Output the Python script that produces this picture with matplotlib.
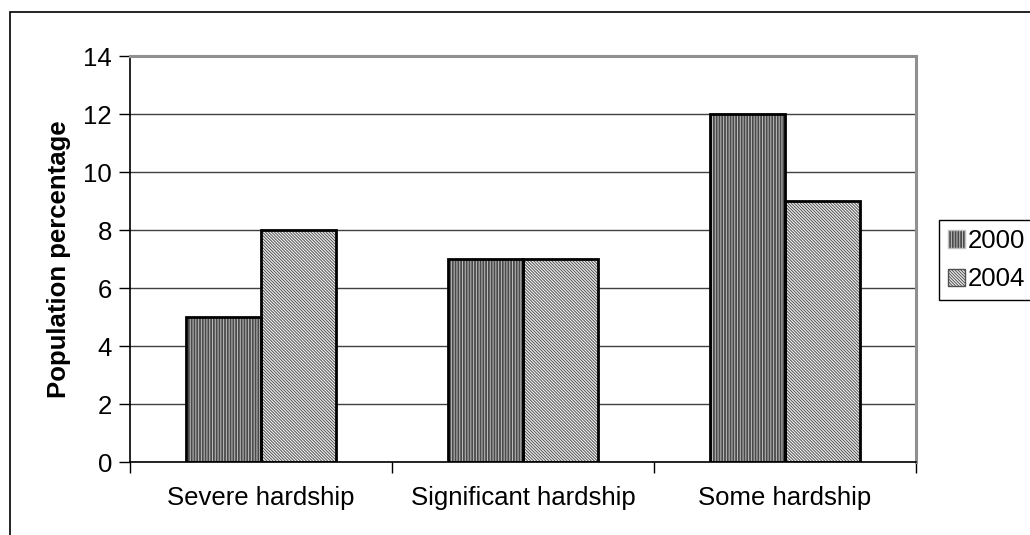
import matplotlib.pyplot as plt
import numpy as np
from matplotlib.patches import Rectangle, Patch

categories = ['Severe hardship', 'Significant hardship', 'Some hardship']
years = ['2000', '2004']
pct_2000 = [5, 7, 12]
pct_2004 = [8, 7, 9]

plt.rcParams['font.family'] = ['Liberation Sans', 'DejaVu Sans']
plt.rcParams['hatch.linewidth'] = 0.7

FS = 18.5
fig = plt.figure(figsize=(10.3, 5.35), dpi=100)
ax = fig.add_axes([130 / 1030, 1 - 462 / 535, 786 / 1030, 406 / 535])

x = np.arange(len(categories))
w = 0.286
hatch_a = '||||||'
hatch_b = '\\' * 11

# fill + hatch first, then the black outline on top
ax.bar(x - w / 2, pct_2000, w, color='#4a4a4a', edgecolor='#c0c0c0', hatch=hatch_a, linewidth=0, zorder=2)
ax.bar(x + w / 2, pct_2004, w, color='#f4f4f4', edgecolor='#505050', hatch=hatch_b, linewidth=0, zorder=2)
ax.bar(x - w / 2, pct_2000, w, fill=False, edgecolor='black', linewidth=2, zorder=3)
ax.bar(x + w / 2, pct_2004, w, fill=False, edgecolor='black', linewidth=2, zorder=3)

ax.set_xlim(-0.5, 2.5)
ax.set_ylim(0, 14)
ax.set_yticks(range(0, 15, 2))
ax.set_xticks(x)
ax.set_xticklabels(categories)
ax.set_xticks([-0.5, 0.5, 1.5, 2.5], minor=True)
ax.tick_params(axis='x', which='major', length=0, pad=17, labelsize=FS)
ax.tick_params(axis='x', which='minor', length=8, width=1, direction='out')
ax.tick_params(axis='y', length=8, width=1, direction='out', labelsize=FS, pad=5)
ax.set_ylabel('Population percentage', fontsize=FS, fontweight='bold', labelpad=9)

ax.yaxis.grid(True, color='#404040', linewidth=1)
ax.set_axisbelow(True)
for side in ['top', 'right']:
    ax.spines[side].set_color('#909090')
    ax.spines[side].set_linewidth(2.2)
for side in ['left', 'bottom']:
    ax.spines[side].set_color('black')
    ax.spines[side].set_linewidth(1.2)

handles = [
    Patch(facecolor='#4a4a4a', edgecolor='#c0c0c0', hatch=hatch_a, label=years[0]),
    Patch(facecolor='#f4f4f4', edgecolor='#505050', hatch=hatch_b, label=years[1]),
]
leg = fig.legend(handles=handles, loc='upper left', bbox_to_anchor=(939 / 1030, 1 - 220 / 535),
                 frameon=True, fancybox=False, edgecolor='black', framealpha=1,
                 fontsize=FS, handlelength=0.65, handleheight=0.65, handletextpad=0.1,
                 borderpad=0.35, labelspacing=0.55, borderaxespad=0)
leg.get_frame().set_linewidth(1)

# outer chart frame
fig.patches.append(Rectangle((10 / 1030, -0.2), 1.2, 1.2 - 12 / 535,
                             transform=fig.transFigure, fill=False,
                             edgecolor='black', linewidth=1.2))

fig.savefig('out.png', dpi=100)
